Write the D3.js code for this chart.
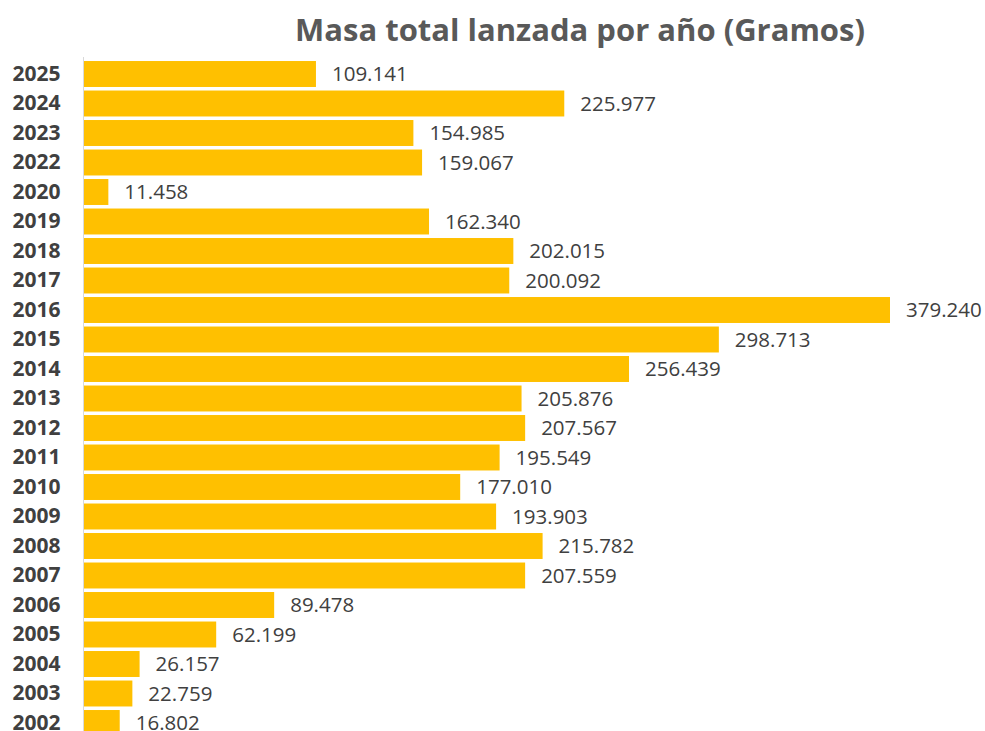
<!DOCTYPE html>
<html>
<head>
<meta charset="utf-8">
<script src="https://cdn.jsdelivr.net/npm/d3@7"></script>
<style>
html,body{margin:0;padding:0;background:#fff;overflow:hidden;}
svg{display:block;}
</style>
</head>
<body>
<svg id="chart" width="985" height="731"></svg>
<script>
const years = ["2025","2024","2023","2022","2020","2019","2018","2017","2016","2015","2014","2013","2012","2011","2010","2009","2008","2007","2006","2005","2004","2003","2002"];
const values = [109.141,225.977,154.985,159.067,11.458,162.340,202.015,200.092,379.240,298.713,256.439,205.876,207.567,195.549,177.010,193.903,215.782,207.559,89.478,62.199,26.157,22.759,16.802];
const labels = ["109.141","225.977","154.985","159.067","11.458","162.340","202.015","200.092","379.240","298.713","256.439","205.876","207.567","195.549","177.010","193.903","215.782","207.559","89.478","62.199","26.157","22.759","16.802"];
const title = "Masa total lanzada por año (Gramos)";

const svg = d3.select("#chart");
const x0 = 84;
const x = d3.scaleLinear().domain([0, 379.24]).range([x0, 890]);
const step = 29.5;
const y = d3.scaleBand().domain(years).range([59.25, 59.25 + step*years.length]).paddingInner(0.12).paddingOuter(0.06);

svg.append("text").attr("x", 580).attr("y", 41).attr("text-anchor","middle")
  .attr("font-family","'Open Sans', sans-serif").attr("font-weight","bold").attr("font-size", 31)
  .attr("fill","#595959").text(title);

svg.selectAll("rect.bar").data(years).enter().append("rect").attr("class","bar")
  .attr("x", x(0)).attr("y", d => y(d)).attr("height", y.bandwidth())
  .attr("width", (d,i) => x(values[i]) - x(0)).attr("fill","#FFC000");

const yAxis = svg.append("g").attr("transform", `translate(${x0-0.5},0)`)
  .call(d3.axisLeft(y).tickSize(0).tickPadding(23));
yAxis.select(".domain").attr("stroke","#d9d9d9").attr("stroke-width",1).attr("d", "M0,57V731");
yAxis.selectAll("text").attr("font-family","'Open Sans', sans-serif").attr("font-weight","bold")
  .attr("font-size", 21).attr("fill","#404040");

svg.selectAll("text.val").data(years).enter().append("text").attr("class","val")
  .attr("x", (d,i) => x(values[i]) + 16).attr("y", d => y(d) + y.bandwidth()/2).attr("dy","0.35em")
  .attr("font-family","'Open Sans', sans-serif").attr("font-size", 20.5).attr("fill","#404040")
  .text((d,i) => labels[i]);
</script>
</body>
</html>
